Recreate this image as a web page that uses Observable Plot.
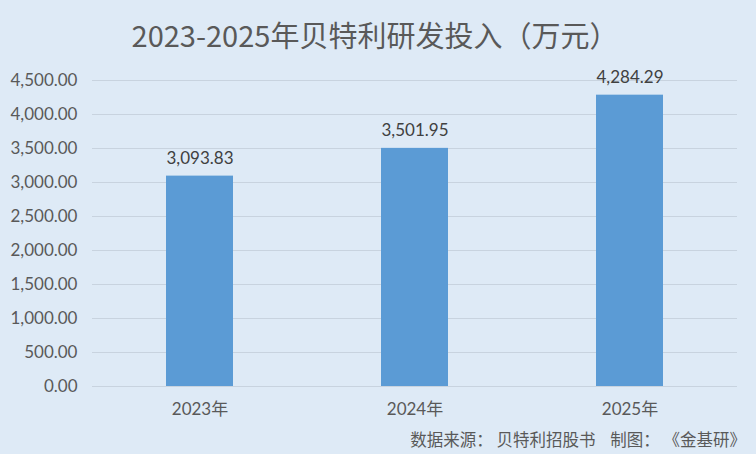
<!DOCTYPE html>
<html><head><meta charset="utf-8">
<script src="https://cdn.jsdelivr.net/npm/d3@7"></script>
<script src="https://cdn.jsdelivr.net/npm/@observablehq/plot@0.6"></script>
<style>
html,body{margin:0;padding:0;background:#DEEAF6;}
#wrap{width:756px;height:454px;position:relative;background:#DEEAF6;overflow:hidden;}
#title{position:absolute;left:0;top:13px;width:750px;text-align:center;font:29px "Noto Sans CJK SC","Noto Sans",sans-serif;color:#595959;line-height:42px;}
#chart{position:absolute;left:0;top:62px;}
#cap{position:absolute;right:10px;top:427px;font:16.5px "Noto Sans CJK SC",sans-serif;color:#595959;white-space:pre;}
</style></head>
<body><div id="wrap"><div id="title">2023-2025年贝特利研发投入（万元）</div><div id="chart"></div><div id="cap">数据来源： 贝特利招股书    制图： 《金基研》</div></div>
<script>
const years = ["2023年","2024年","2025年"];
const values = [3093.83, 3501.95, 4284.29];
const yTicks = [0,500,1000,1500,2000,2500,3000,3500,4000,4500];
const data = years.map((y,i)=>({year:y, value:values[i]}));
const fmt = d3.format(",.2f");
const plot = Plot.plot({
  width:756, height:364,
  marginTop:18, marginBottom:40, marginLeft:92, marginRight:19,
  style:{background:"transparent", fontFamily:"Lato, 'Noto Sans CJK SC', sans-serif", fontSize:"17px", color:"#595959"},
  x:{domain:years, paddingInner:0.69, paddingOuter:0.345, label:null, tickSize:0, tickPadding:16},
  y:{domain:[0,4500], ticks:yTicks, tickFormat:fmt, label:null, tickSize:0, tickPadding:15},
  marks:[
    Plot.gridY(yTicks,{stroke:"#C8D3DF", strokeOpacity:1, strokeWidth:1}),
    Plot.barY(data,{x:"year", y:"value", fill:"#5B9BD5"}),
    Plot.text(data,{x:"year", y:"value", text:d=>fmt(d.value), dy:-18, fill:"#404040", fontSize:17})
  ]
});
document.getElementById("chart").appendChild(plot);
</script></body></html>
